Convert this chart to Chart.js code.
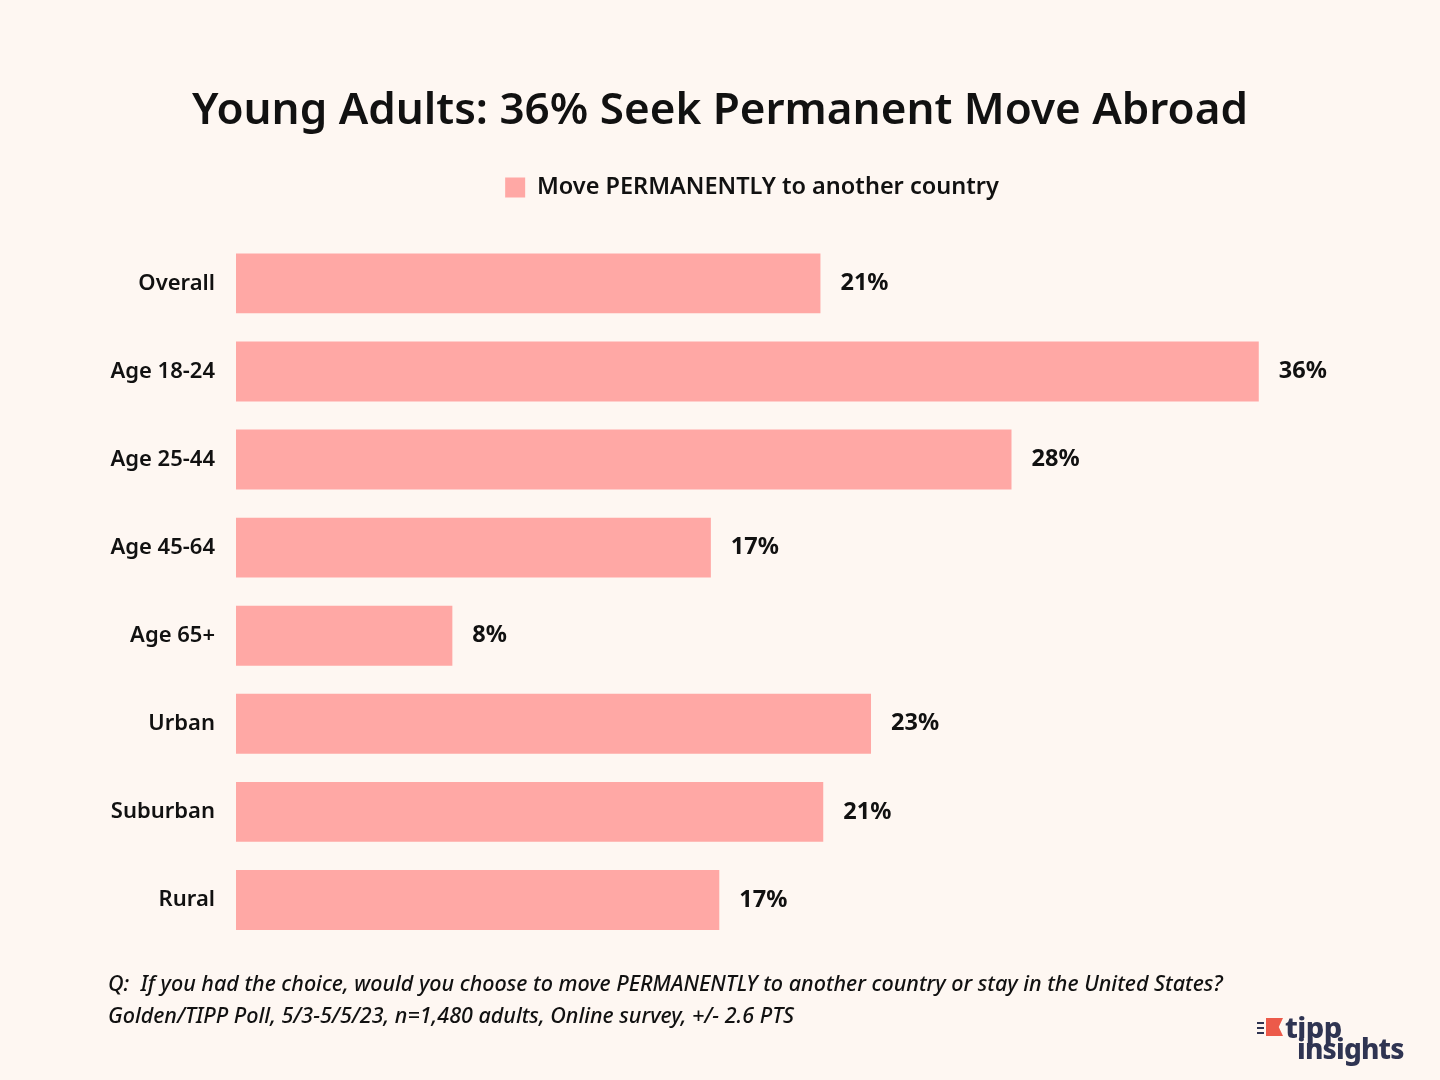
<!DOCTYPE html>
<html>
<head>
<meta charset="utf-8">
<script src="https://cdn.jsdelivr.net/npm/chart.js@4.4.0/dist/chart.umd.min.js"></script>
<style>
  html, body { margin: 0; padding: 0; background: #fef7f2; }
  #wrap { position: relative; width: 1440px; height: 1080px; }
  #logo { position: absolute; left: 1256px; top: 1012px; font-family: "Noto Sans", sans-serif; font-weight: 800; color: #2f3452; line-height: 1; }
  #logo .flag { position: absolute; left: 10px; top: 6px; width: 17px; height: 18px; background: #ec5a4a; clip-path: polygon(0 0, 100% 0, 75% 50%, 100% 100%, 0 100%); }
  #logo .ln { position: absolute; left: 1px; width: 7px; height: 2px; background: #2f3452; }
  #logo .t1 { position: absolute; left: 29px; top: 0; font-size: 29px; letter-spacing: -0.6px; }
  #logo .t2 { position: absolute; left: 41px; top: 22px; font-size: 28px; letter-spacing: -0.8px; }
</style>
</head>
<body>
<div id="wrap">
  <canvas id="chart" width="1440" height="1080"></canvas>
  <div id="logo">
    <div class="ln" style="top:10px"></div><div class="ln" style="top:15px"></div><div class="ln" style="top:20px"></div>
    <div class="flag"></div><span class="t1">tipp</span><span class="t2">insights</span>
  </div>
</div>
<script>
const categories = ["Overall", "Age 18-24", "Age 25-44", "Age 45-64", "Age 65+", "Urban", "Suburban", "Rural"];
const moveValues = [20.8, 36.4, 27.6, 16.9, 7.7, 22.6, 20.9, 17.2];
const valueLabels = ["21%", "36%", "28%", "17%", "8%", "23%", "21%", "17%"];
const seriesName = "Move PERMANENTLY to another country";
const footnotes = [
  "Q:  If you had the choice, would you choose to move PERMANENTLY to another country or stay in the United States?",
  "Golden/TIPP Poll, 5/3-5/5/23, n=1,480 adults, Online survey, +/- 2.6 PTS"
];

const barLabels = {
  id: "barLabels",
  afterDatasetsDraw(chart) {
    const ctx = chart.ctx;
    const meta = chart.getDatasetMeta(0);
    ctx.save();
    ctx.font = "700 23.5px 'Noto Sans'";
    ctx.fillStyle = "#111";
    ctx.textBaseline = "middle";
    meta.data.forEach(function (bar, i) {
      ctx.fillText(valueLabels[i], bar.x + 20, bar.y);
    });
    ctx.restore();
  }
};

const footnotePlugin = {
  id: "footnotes",
  afterDraw(chart) {
    const ctx = chart.ctx;
    ctx.save();
    ctx.font = "italic 500 21.5px 'Noto Sans'";
    ctx.fillStyle = "#111";
    ctx.textBaseline = "middle";
    ctx.fillText(footnotes[0], 108, 985, 1118);
    ctx.fillText(footnotes[1], 108, 1017, 698);
    ctx.restore();
  }
};

// extra space under the legend, and nudge it right like the original
const legendSpace = {
  id: "legendSpace",
  beforeInit(chart) {
    const fit = chart.legend.fit;
    chart.legend.fit = function () {
      fit.bind(chart.legend)();
      this.height += 30;
    };
  },
  afterLayout(chart) {
    chart.legend.left += 32;
    chart.legend.right += 32;
  }
};

new Chart(document.getElementById("chart"), {
  type: "bar",
  data: {
    labels: categories,
    datasets: [{
      label: seriesName,
      data: moveValues,
      backgroundColor: "#ffa8a5",
      barPercentage: 0.85,
      categoryPercentage: 0.8
    }]
  },
  options: {
    indexAxis: "y",
    responsive: false,
    animation: false,
    layout: { padding: { left: 0, right: 0, top: 0, bottom: 136 } },
    scales: {
      x: { display: false, min: 0, max: 42.85 },
      y: {
        grid: { display: false, drawTicks: false },
        border: { display: false },
        ticks: { padding: 21, color: "#111", font: { family: "Noto Sans", size: 22, weight: "600" } },
        afterFit(scale) { scale.width = 236; }
      }
    },
    plugins: {
      title: {
        display: true,
        text: "Young Adults: 36% Seek Permanent Move Abroad",
        color: "#111",
        font: { family: "Noto Sans", size: 44, weight: "600" },
        padding: { top: 85, bottom: 22 }
      },
      legend: {
        labels: {
          color: "#111",
          boxWidth: 20, boxHeight: 20,
          padding: 16,
          font: { family: "Noto Sans", size: 23.5, weight: "600" }
        }
      },
      tooltip: { enabled: false }
    }
  },
  plugins: [barLabels, footnotePlugin, legendSpace]
});
</script>
</body>
</html>
